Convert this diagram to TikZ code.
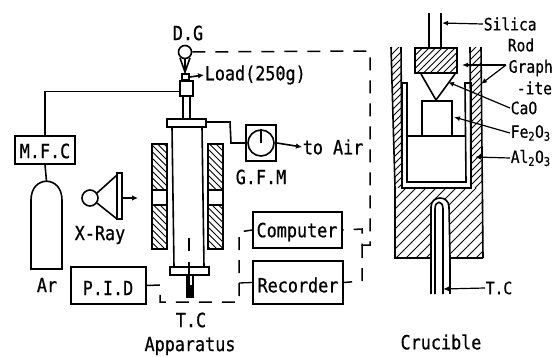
\documentclass[tikz,border=0pt]{standalone}
\usepackage{fontspec}
\usetikzlibrary{arrows.meta}
\newfontfamily\plotfont[FakeStretch=0.86,FakeBold=0.7]{DejaVu Sans Mono}

\begin{document}
\begin{tikzpicture}[
    x=1pt, y=-1pt,
    line width=1.6pt,
    boxnode/.style={draw, inner sep=0pt},
    lbl/.style={font=\plotfont\fontsize{19.5}{21}\selectfont, inner sep=0pt},
    lblsmall/.style={font=\plotfont\fontsize{17}{19}\selectfont, inner sep=0pt},
    flow/.style={-{Latex[length=6pt,width=5.5pt]}},
    leader/.style={-{Latex[length=6pt,width=5pt]}, line width=1.2pt},
    ctl/.style={line width=1.5pt, dash pattern=on 13pt off 10pt},
    hatchline/.style={line width=1pt}
  ]
    \useasboundingbox (0,0) rectangle (559,356);

    % apparatus
    \node[boxnode, minimum width=60pt, minimum height=28pt] (mfc) at (45,150) {};
    \node[lbl] at (45,151) {M.F.C};
    \node[boxnode, minimum width=75pt, minimum height=37pt] (pid) at (108.5,285.5) {};
    \node[lbl] at (108,288) {P.I.D};
    \node[boxnode, minimum width=89pt, minimum height=36pt] (computer) at (297.5,230) {};
    \node[lbl] at (297,232) {Computer};
    \node[boxnode, minimum width=90pt, minimum height=43pt] (recorder) at (298,282.5) {};
    \node[lbl] at (298,285) {Recorder};
    \node[boxnode, minimum width=30pt, minimum height=36pt] (gfm) at (261,143) {};
    \node[boxnode, circle, minimum size=26pt] (dial) at (gfm.center) {};
    \draw (dial.center) -- (dial.north);
    \node[boxnode, minimum width=13pt, minimum height=15pt] (valve) at (186.5,88.5) {};
    \node[boxnode, minimum width=7pt, minimum height=6pt] (load) at (185.5,77) {};
    \node[boxnode, circle, minimum size=13pt] (dg) at (185,52) {};
    \draw (180,58) -- (185,72) -- (190,58);
    \draw (185,58) -- (185,72);

    \coordinate (artop) at (46.5,181);
    \draw (31,269) -- (31,200) .. controls (31,175) and (62,175) .. (62,200) -- (62,269) -- cycle;
    \draw (mfc.north) |- ([yshift=-3pt]valve.west);
    \draw (mfc.south) -- (artop);

    % x-ray tube
    \node[boxnode, circle, minimum size=16pt] (xray) at (90,198) {};
    \draw (97,193) -- (117,175) (97,203) -- (117,219);
    \draw (117,173) rectangle (122,219);
    \coordinate (xrayout) at (122,198);
    \coordinate (xraytip) at (138,198);
    \draw[flow] (xrayout) -- (xraytip);

    % furnace
    \draw (183,96) -- (183,119) (190,96) -- (190,119);
    \draw (167,119) rectangle (206,127);
    \draw (172,127) -- (174,267) (202,127) -- (204,267);
    \draw (170,267) rectangle (209,275);
    \draw (187,275) -- (187,298) (193,275) -- (193,298);
    \fill (187,285) rectangle (193,298);
    \draw (189,238) -- (189,251) (189,262) -- (189,285);
    \begin{scope}
      \clip (152,144) rectangle (167,190) (152,205) rectangle (167,249)
        (208,144) rectangle (223,190) (208,205) rectangle (223,249);
      \foreach \xa in {47,53.5,...,225} \draw[hatchline] (\xa,144) -- (\xa+105,249);
    \end{scope}
    \foreach \xa in {152,208} {
      \draw (\xa,144) rectangle (\xa+15,249);
      \draw (\xa,190) -- (\xa+15,190) (\xa,205) -- (\xa+15,205);
    }

    % lines of the apparatus
    \coordinate (flangeout) at (206,122);
    \draw (flangeout) -- (230,122) -- (231,143) -- (gfm.west);
    \node[lbl, anchor=west] (toair) at (302,147) {to Air};
    \draw[flow] (gfm.east) -- (toair.west);
    \node[lbl, anchor=west] (loadtxt) at (204,75) {Load(250g)};
    \draw[flow] (load.east) -- (loadtxt.west);
    \draw[ctl] (dg.east) -- (370,51) -- (370,245) -- (362,245) -- (362,229) -- (computer.east);
    \draw[ctl] (362,245) -- (362,281) -- (recorder.east);
    \draw[ctl] (pid.east) -- (160,285) -- (160,302) -- (239,302) -- (239,232) -- (computer.west);
    \draw[line width=1.3pt] (239,283) -- (recorder.west);

    \node[lbl] at (188,33) {D.G};
    \node[lbl] at (47,285) {Ar};
    \node[lbl] at (100,235) {X-Ray};
    \node[lbl] at (261,177) {G.F.M};
    \node[lbl] at (191,320) {T.C};
    \node[lbl] at (190,346) {Apparatus};

    % crucible
    \begin{scope}
      \clip (391,47) -- (395,188) -- (402,188) -- (401,47) -- cycle
        (470,47) -- (471,188) -- (482,188) -- (481,47) -- cycle;
      \foreach \xa in {392,399,...,630} \draw[hatchline] (\xa,47) -- (\xa-141,188);
    \end{scope}
    \draw (391,47) -- (395,188) (401,47) -- (402,188) (470,47) -- (471,188) (481,47) -- (483,258);
    \begin{scope}
      \clip (395,188) -- (483,188) -- (483,258) -- (450,258) -- (449,207)
        .. controls (449,195) and (431,195) .. (431,207) -- (431,258) -- (395,258) -- cycle;
      \foreach \xa in {396,406,...,560} \draw[hatchline] (\xa,188) -- (\xa-70,258);
    \end{scope}
    \draw (395,188) -- (395,258) -- (431,258) -- (431,207)
      .. controls (431,195) and (449,195) .. (449,207) -- (450,258) -- (483,258);
    \draw (402,83) -- (407,83) -- (407,182) -- (466,182) -- (465,83) -- (471,83) -- (471,188) -- (402,188) -- cycle;
    \draw (408,136) -- (466,136);
    \draw (422,136) -- (422,101) -- (452,101) -- (452,136);
    \draw (421,74) -- (436,100) -- (455,74);
    \begin{scope}
      \clip (415,48) rectangle (457,73);
      \foreach \xa in {416,422.5,...,484} \draw[hatchline] (\xa,48) -- (\xa-25,73);
    \end{scope}
    \draw (415,48) rectangle (457,73);
    \draw (429,13) -- (429,48) (441,13) -- (441,48);
    \draw (431,258) -- (431,294) (450,258) -- (450,294);
    \draw (435,294) -- (435,209) .. controls (435,200) and (443,200) .. (443,209) -- (443,294);

    \node[lblsmall, anchor=west] (silica) at (483,24) {Silica};
    \node[lblsmall, anchor=west] (rod) at (507,45) {Rod};
    \node[lblsmall, anchor=west] (graph) at (508,68) {Graph};
    \node[lblsmall, anchor=west] (ite) at (516,88) {-ite};
    \node[lblsmall, anchor=west] (cao) at (510,108) {CaO};
    \node[lblsmall, anchor=west] (feo) at (510,133) {Fe\textsubscript{2}O\textsubscript{3}};
    \node[lblsmall, anchor=west] (alo) at (510,158) {Al\textsubscript{2}O\textsubscript{3}};
    \node[lblsmall, anchor=west] (tc) at (485,288) {T.C};
    \node[lbl] at (441,342) {Crucible};

    \coordinate (silicatip) at (442,23);
    \coordinate (graphjoin) at (506,65);
    \coordinate (graphtipa) at (462,65);
    \coordinate (graphtipb) at (481,84);
    \coordinate (caotip) at (448,82);
    \coordinate (feotip) at (454,117);
    \coordinate (alotip) at (475,157);
    \coordinate (tctip) at (443,289);
    \draw[leader] (silica.west) -- (silicatip);
    \draw[leader] (graphjoin) -- (graphtipa);
    \draw[leader] (graphjoin) -- (graphtipb);
    \draw[leader] (cao.west) -- (caotip);
    \draw[leader] (feo.west) -- (feotip);
    \draw[leader] (alo.west) -- (alotip);
    \draw[leader] (tc.west) -- (tctip);
  \end{tikzpicture}
\end{document}
